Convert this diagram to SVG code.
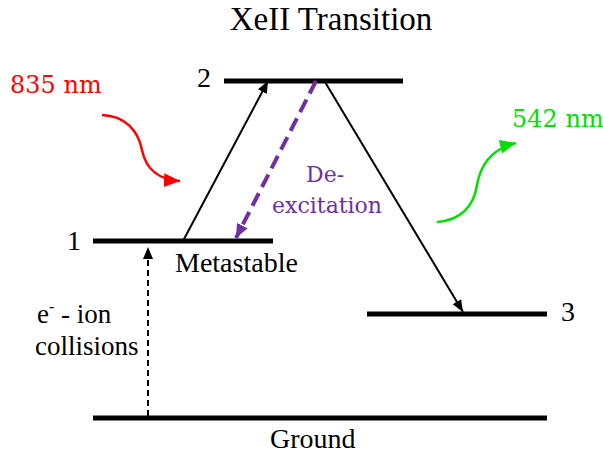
<svg xmlns="http://www.w3.org/2000/svg" width="603" height="457" viewBox="0 0 603 457">
<style>
.lvl{stroke:#000;stroke-width:5;fill:none}
.t{font-family:"Liberation Serif","Times New Roman",serif;font-size:28px;fill:#000}
.c{font-family:"DejaVu Serif",serif;font-size:24px}
</style>
<defs>
<marker id="ab" viewBox="0 0 12 10" refX="12" refY="5" markerWidth="12" markerHeight="10" markerUnits="userSpaceOnUse" orient="auto"><path d="M0,0L12,5L0,10z" fill="#000"/></marker>
<marker id="ap" viewBox="0 0 14 12" refX="14" refY="6" markerWidth="14" markerHeight="12" markerUnits="userSpaceOnUse" orient="auto"><path d="M0,0L14,6L0,12z" fill="#7030A0"/></marker>
<marker id="ar" viewBox="0 0 16 14" refX="16" refY="7" markerWidth="16" markerHeight="14" markerUnits="userSpaceOnUse" orient="auto"><path d="M0,0L16,7L0,14z" fill="#FF0000"/></marker>
<marker id="ag" viewBox="0 0 16 14" refX="16" refY="7" markerWidth="16" markerHeight="14" markerUnits="userSpaceOnUse" orient="auto"><path d="M0,0L16,7L0,14z" fill="#00E000"/></marker>
</defs>
<text class="t" x="331" y="30" text-anchor="middle" style="font-size:33px">XeII Transition</text>
<g id="level2"><line class="lvl" x1="224" y1="81" x2="403" y2="81"/><text class="t" x="197" y="87">2</text></g>
<g id="level1"><line class="lvl" x1="93" y1="241" x2="273" y2="241"/><text class="t" x="67" y="250">1</text><text class="t" x="175" y="272">Metastable</text></g>
<g id="level3"><line class="lvl" x1="367" y1="314" x2="547" y2="314"/><text class="t" x="561" y="321">3</text></g>
<g id="ground"><line class="lvl" x1="93" y1="418" x2="547" y2="418"/><text class="t" x="270" y="448">Ground</text></g>
<g id="collisions-label"><text class="t" x="37" y="323" style="font-size:27px">e<tspan font-size="16" dy="-11">-</tspan><tspan dy="11"> - ion</tspan></text><text class="t" x="35" y="355" style="font-size:27px">collisions</text></g>
<g id="deexc-label" class="c" fill="#7030A0" style="font-size:22px"><text x="306" y="182">De-</text><text x="272" y="213">excitation</text></g>
<g id="red-label"><text class="c" x="10" y="93" fill="#FF0000">835 nm</text></g>
<g id="green-label"><text class="c" x="512" y="127" fill="#00E000">542 nm</text></g>
<g id="connectors" fill="none">
<line x1="183" y1="241" x2="268" y2="81" stroke="#000" stroke-width="2" marker-end="url(#ab)"/>
<line x1="325" y1="82" x2="463" y2="312" stroke="#000" stroke-width="2" marker-end="url(#ab)"/>
<line x1="316" y1="81" x2="236" y2="238" stroke="#7030A0" stroke-width="4" stroke-dasharray="14,7" marker-end="url(#ap)"/>
<line x1="148" y1="416" x2="148" y2="247" stroke="#000" stroke-width="2" stroke-dasharray="6,4" marker-end="url(#ab)"/>
<path d="M102,115 C125,116 138,130 142,150 C146,170 160,180 180,181" stroke="#FF0000" stroke-width="2.5" marker-end="url(#ar)"/>
<path d="M437,222 C462,220 474,205 477,185 C481,162 495,148 516,143" stroke="#00E000" stroke-width="2.5" marker-end="url(#ag)"/>
</g>
</svg>
